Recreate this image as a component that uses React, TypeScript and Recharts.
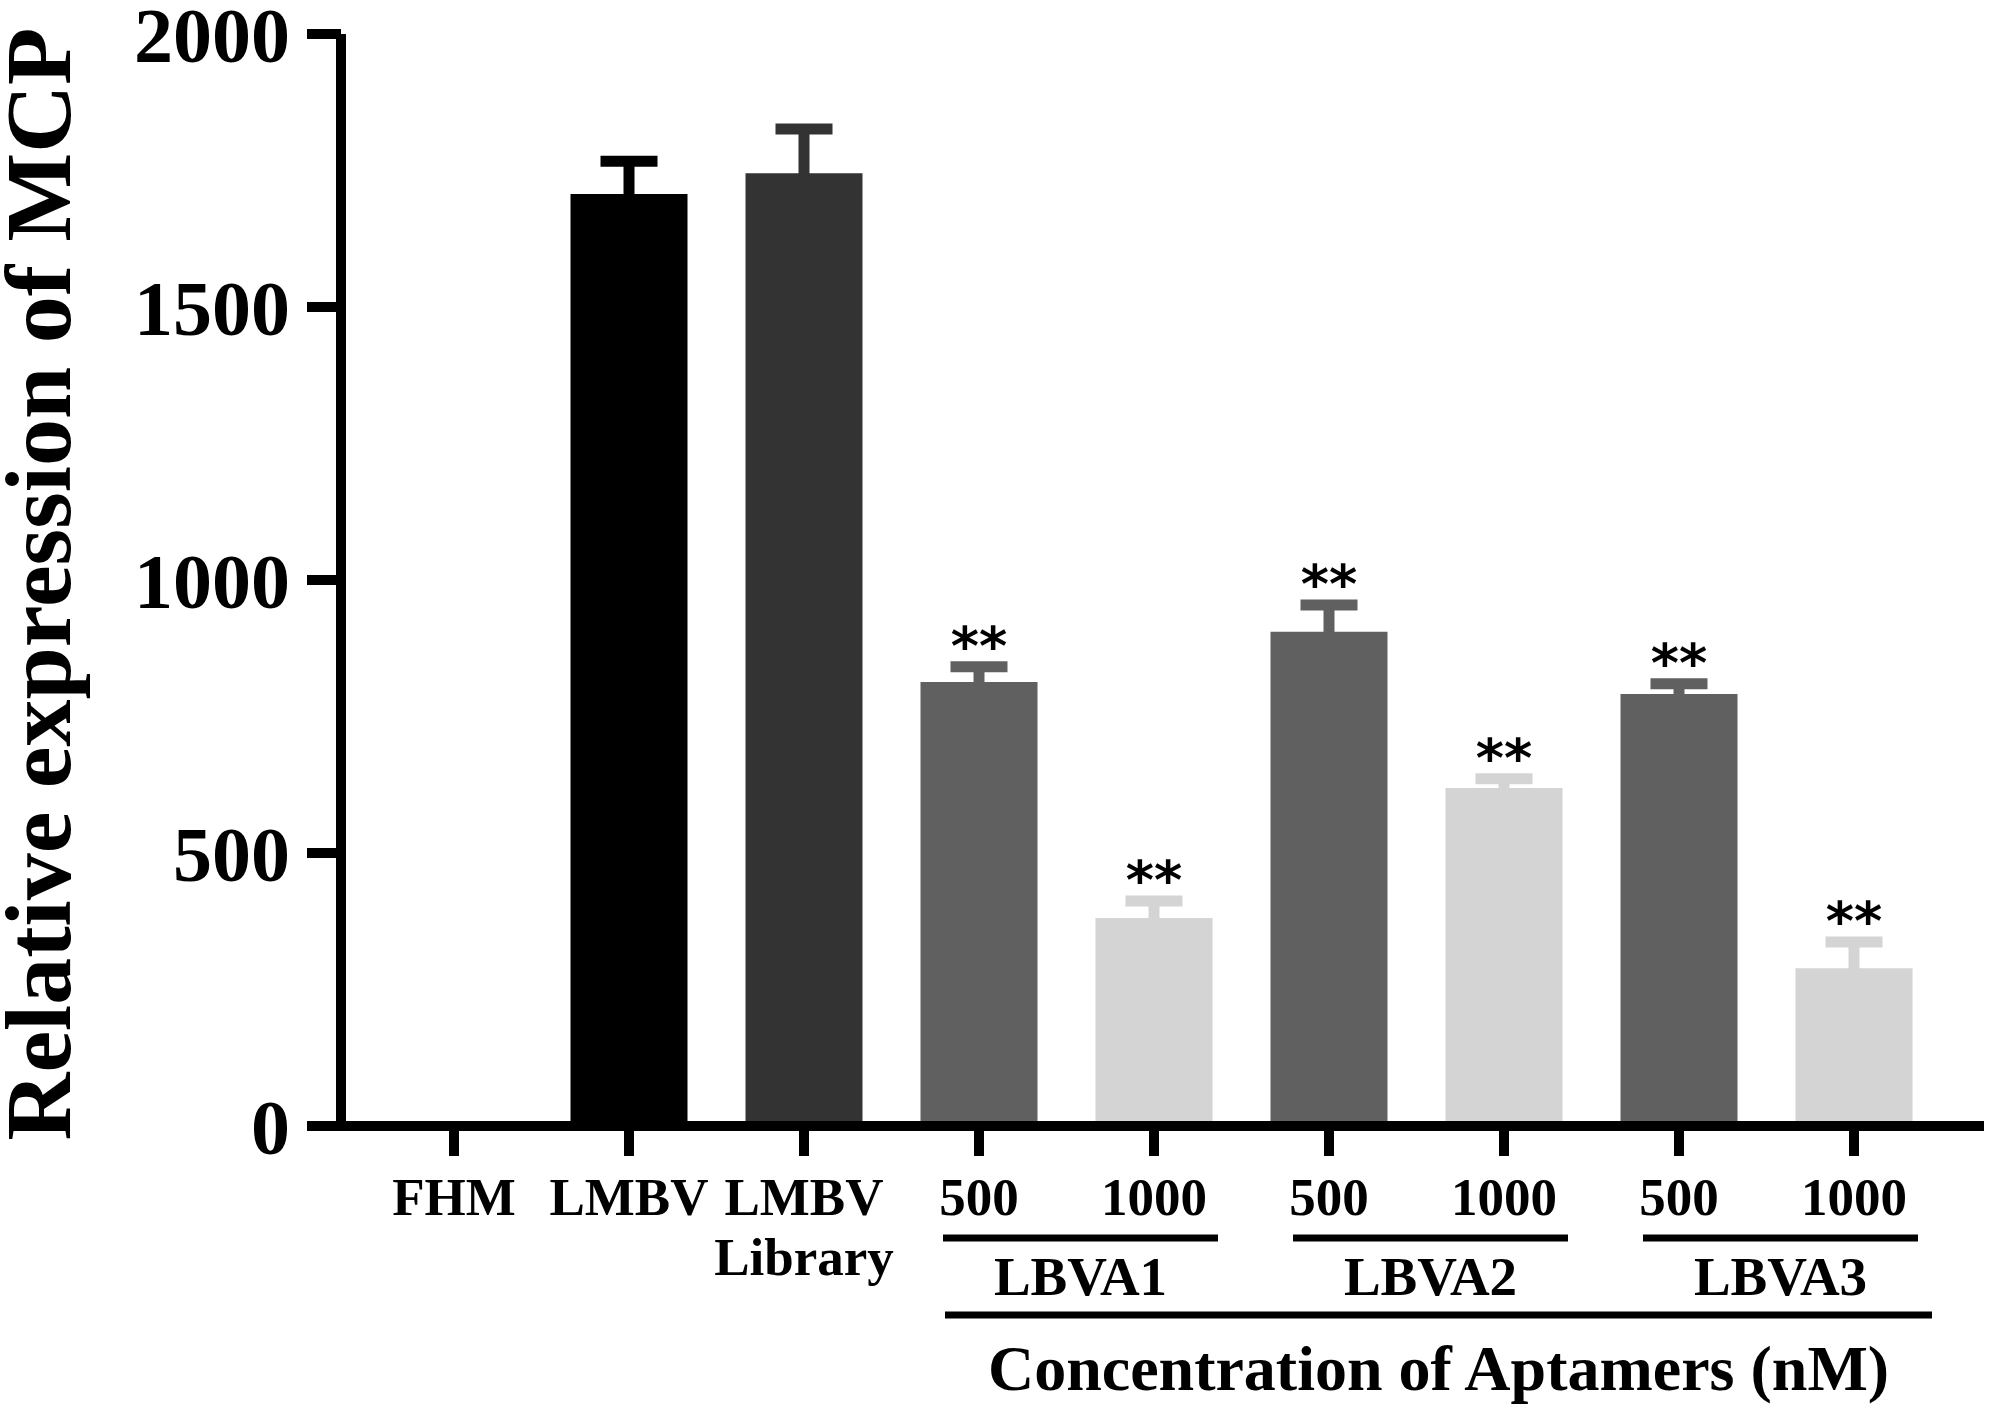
import { Bar, BarChart, ErrorBar, LabelList, XAxis, YAxis } from 'recharts'

const groups = ['FHM', 'LMBV', 'LMBV Library', 'LBVA1 500', 'LBVA1 1000', 'LBVA2 500', 'LBVA2 1000', 'LBVA3 500', 'LBVA3 1000']
const tickLines = [['FHM'], ['LMBV'], ['LMBV', 'Library'], ['500'], ['1000'], ['500'], ['1000'], ['500'], ['1000']]
const expression = [0, 1707, 1745, 813, 381, 905, 619, 791, 289]
const sem = [0, 60, 81, 28, 31, 49, 17, 19, 48]
const shade = ['black', 'black', 'dark', 'mid', 'light', 'mid', 'light', 'mid', 'light']
const marks = ['', '', '', '**', '**', '**', '**', '**', '**']
const aptamers = ['LBVA1', 'LBVA2', 'LBVA3']
const yTicks = [0, 500, 1000, 1500, 2000]
const yTitle = 'Relative expression of MCP'
const xTitle = 'Concentration of Aptamers (nM)'

const FILLS: Record<string, string> = {
  black: '#000000',
  dark: '#333333',
  mid: '#606060',
  light: '#d4d4d4',
}

const SERIF = "'Liberation Serif', 'Times New Roman', serif"

const data = groups.map((name, i) => {
  const row: Record<string, any> = { name, sig: marks[i] ? sem[i] : null, mark: marks[i] || null }
  for (const s of Object.keys(FILLS)) {
    row[s] = shade[i] === s ? expression[i] : null
    row[s + 'Err'] = shade[i] === s && sem[i] ? sem[i] : null
  }
  return row
})

function CategoryTick(props: any) {
  const { x, y, payload } = props
  const i = groups.indexOf(payload.value)
  const half = payload.offset || 87.5
  const startsGroup = i >= 3 && (i - 3) % 2 === 0
  const g = Math.floor((i - 3) / 2)
  const textProps = { fill: '#000', fontFamily: SERIF, fontWeight: 'bold', textAnchor: 'middle' as const }
  return (
    <g>
      {tickLines[i].map((t, k) => (
        <text key={k} x={x} y={y + 59 + k * 60} fontSize={53} {...textProps}>
          {t}
        </text>
      ))}
      {startsGroup && (
        <>
          <line x1={x - 36} x2={x + 2 * half + 64} y1={y + 82} y2={y + 82} stroke="#000" strokeWidth={7} />
          <text x={x + half + 14} y={y + 139} fontSize={55} {...textProps}>
            {aptamers[g]}
          </text>
        </>
      )}
      {i === 3 && (
        <>
          <line x1={x - 34} x2={x + 10 * half + 78} y1={y + 159} y2={y + 159} stroke="#000" strokeWidth={7} />
          <text x={x + 5 * half + 22} y={y + 234} fontSize={64} {...textProps}>
            {xTitle}
          </text>
        </>
      )}
    </g>
  )
}

function YTitle() {
  return (
    <text
      x={70}
      y={584}
      transform="rotate(-90 70 584)"
      textAnchor="middle"
      fill="#000"
      fontSize={94}
      fontWeight="bold"
      fontFamily={SERIF}
    >
      {yTitle}
    </text>
  )
}

export default function App() {
  return (
    <div style={{ position: 'absolute', left: 0, top: 0, background: '#fff' }}>
      <BarChart width={1997} height={1404} data={data} margin={{ top: 34, right: 13, bottom: 0, left: 0 }}>
        <XAxis
          dataKey="name"
          interval={0}
          height={278}
          padding={{ left: 25.5, right: 42.5 }}
          axisLine={{ stroke: '#000', strokeWidth: 10 }}
          tickLine={{ stroke: '#000', strokeWidth: 10 }}
          tickSize={30}
          tickMargin={0}
          tick={(p: any) => <CategoryTick {...p} />}
        />
        <YAxis
          domain={[0, 2000]}
          ticks={yTicks}
          interval={0}
          width={341}
          axisLine={{ stroke: '#000', strokeWidth: 10 }}
          tickLine={{ stroke: '#000', strokeWidth: 10 }}
          tickSize={34}
          tickMargin={17}
          tick={{ fill: '#000', fontSize: 78, fontWeight: 'bold', fontFamily: SERIF }}
          label={() => <YTitle />}
        />
        {Object.keys(FILLS).map((s) => (
          <Bar key={s} dataKey={s} stackId="s" fill={FILLS[s]} barSize={117} isAnimationActive={false}>
            <ErrorBar
              dataKey={s + 'Err'}
              direction="y"
              width={28.5}
              strokeWidth={11}
              stroke={FILLS[s]}
              isAnimationActive={false}
            />
          </Bar>
        ))}
        <Bar dataKey="sig" stackId="s" fill="transparent" barSize={117} isAnimationActive={false}>
          <LabelList
            dataKey="mark"
            position="top"
            offset={2}
            fill="#000"
            fontSize={54}
            fontWeight="bold"
            fontFamily="'DejaVu Sans', sans-serif"
          />
        </Bar>
      </BarChart>
    </div>
  )
}
